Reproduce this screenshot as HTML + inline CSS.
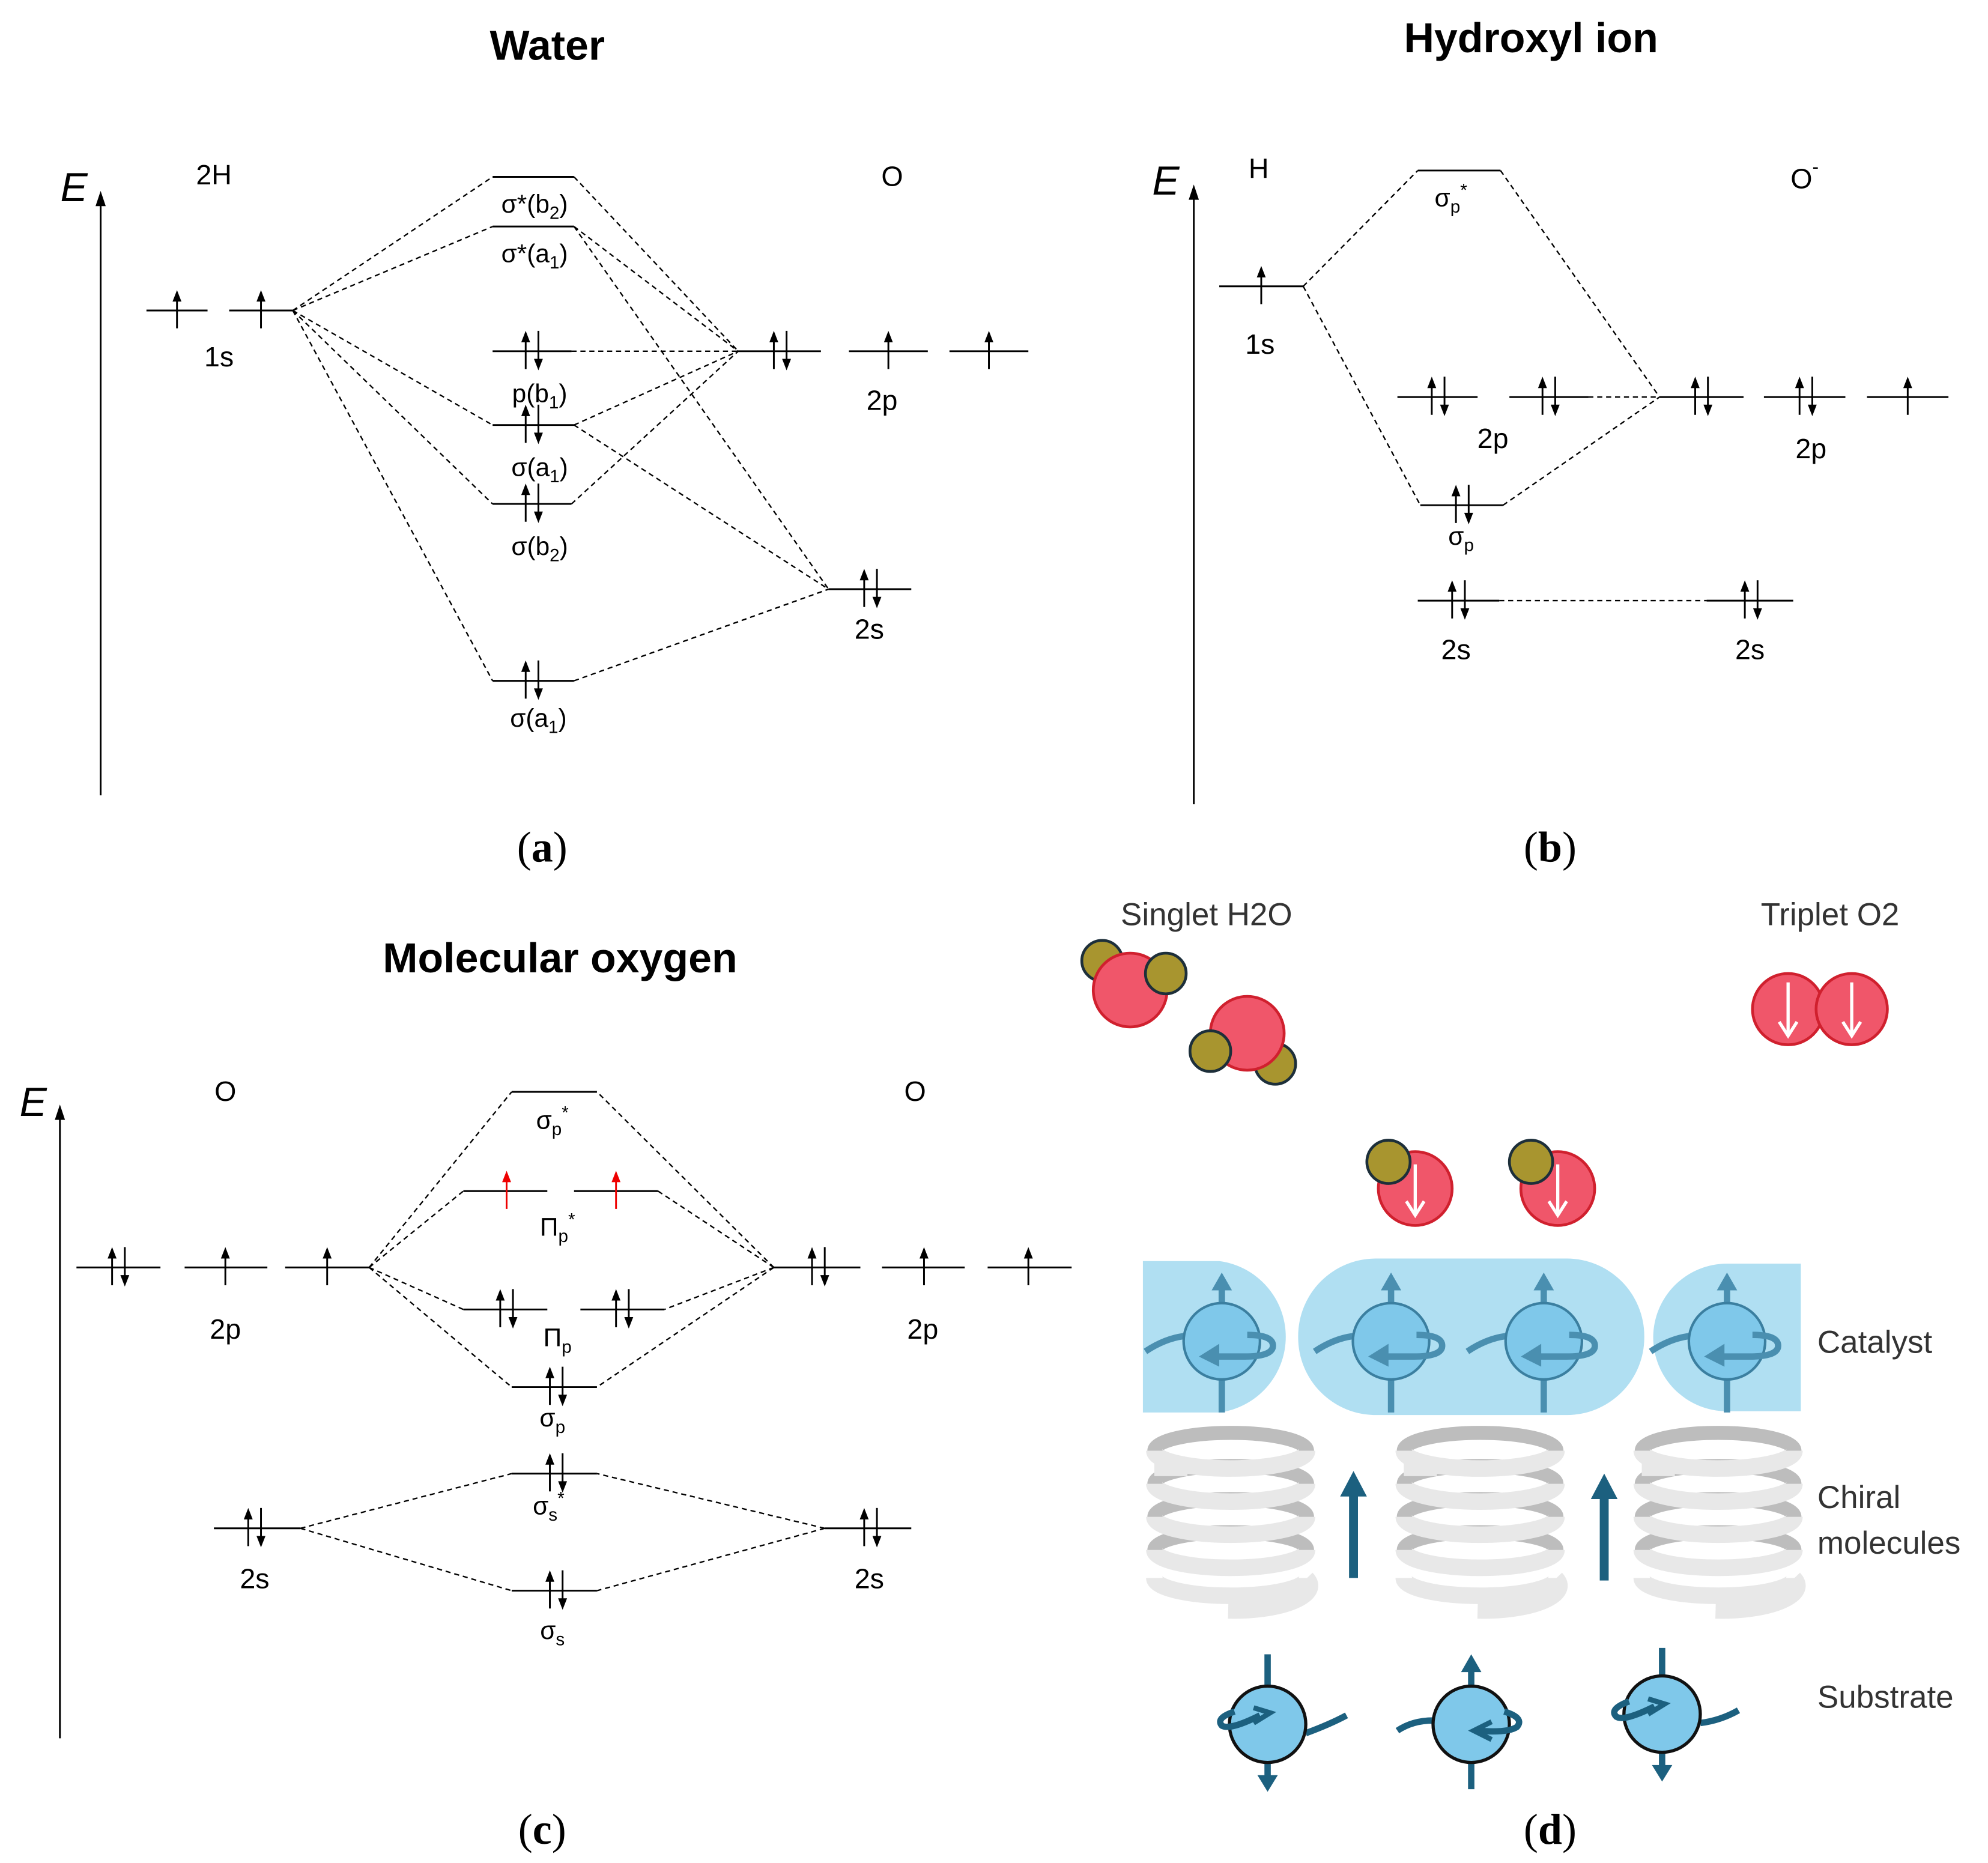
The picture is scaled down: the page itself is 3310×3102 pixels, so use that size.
<!DOCTYPE html>
<html><head><meta charset="utf-8"><style>html,body{margin:0;padding:0;background:#fff}svg{display:block}</style></head>
<body>
<svg width="3310" height="3102" viewBox="0 0 1562 1464" xmlns="http://www.w3.org/2000/svg" font-family="Liberation Sans, sans-serif">
<defs>
<g id="u"><line x1="0" y1="14" x2="0" y2="-12" stroke="#000" stroke-width="1.4"/><path d="M-3.5,-7 L0,-16 L3.5,-7Z" fill="#000"/></g>
<g id="d"><line x1="0" y1="-16" x2="0" y2="10" stroke="#000" stroke-width="1.4"/><path d="M-3.5,6 L0,15 L3.5,6Z" fill="#000"/></g>
<g id="ru"><line x1="0" y1="14" x2="0" y2="-12" stroke="#e00" stroke-width="1.4"/><path d="M-3.5,-7 L0,-16 L3.5,-7Z" fill="#e00"/></g>
<g id="ud"><use href="#u" x="-5"/><use href="#d" x="5"/></g>
<g id="ax"><path d="M-4,12 L0,0 L4,12Z" fill="#000"/></g>
</defs>
<rect width="1562" height="1464" fill="#fff"/>

<!-- ===== (a) Water ===== -->
<g fill="#000">
<text x="430" y="47" font-size="33" text-anchor="middle" font-weight="bold">Water</text>
<text x="58" y="158" font-size="32" font-style="italic" text-anchor="middle">E</text>
<text x="168" y="145" font-size="22" text-anchor="middle">2H</text>
<text x="701" y="146" font-size="22" text-anchor="middle">O</text>
<text x="172" y="288" font-size="22" text-anchor="middle">1s</text>
<text x="693" y="322" font-size="22" text-anchor="middle">2p</text>
<text x="683" y="502" font-size="22" text-anchor="middle">2s</text>
<g font-size="20" text-anchor="middle">
<text x="420" y="167">σ*(b<tspan font-size="14" dy="5">2</tspan><tspan dy="-5">)</tspan></text>
<text x="420" y="206">σ*(a<tspan font-size="14" dy="5">1</tspan><tspan dy="-5">)</tspan></text>
<text x="424" y="316">p(b<tspan font-size="14" dy="5">1</tspan><tspan dy="-5">)</tspan></text>
<text x="424" y="374">σ(a<tspan font-size="14" dy="5">1</tspan><tspan dy="-5">)</tspan></text>
<text x="424" y="436">σ(b<tspan font-size="14" dy="5">2</tspan><tspan dy="-5">)</tspan></text>
<text x="423" y="571">σ(a<tspan font-size="14" dy="5">1</tspan><tspan dy="-5">)</tspan></text>
</g>
</g>
<line x1="79" y1="625" x2="79" y2="160" stroke="#000" stroke-width="1.4"/><use href="#ax" x="79" y="150"/>
<g stroke="#000" stroke-width="1.4">
<line x1="115" y1="244" x2="163" y2="244"/><line x1="180" y1="244" x2="230" y2="244"/>
<line x1="580" y1="276" x2="645" y2="276"/><line x1="667" y1="276" x2="729" y2="276"/><line x1="746" y1="276" x2="808" y2="276"/>
<line x1="651" y1="463" x2="716" y2="463"/>
<line x1="387" y1="139" x2="451" y2="139"/><line x1="387" y1="178" x2="451" y2="178"/>
<line x1="387" y1="276" x2="449" y2="276"/><line x1="387" y1="334" x2="451" y2="334"/>
<line x1="387" y1="396" x2="449" y2="396"/><line x1="387" y1="535" x2="451" y2="535"/>
</g>
<use href="#u" x="139" y="244"/><use href="#u" x="205" y="244"/>
<use href="#ud" x="613" y="276"/><use href="#u" x="698" y="276"/><use href="#u" x="777" y="276"/>
<use href="#ud" x="684" y="463"/>
<use href="#ud" x="418" y="276"/><use href="#ud" x="418" y="334"/><use href="#ud" x="418" y="396"/><use href="#ud" x="418" y="535"/>
<g stroke="#000" stroke-width="1.1" stroke-dasharray="4,3" fill="none">
<path d="M230,244 L387,139 M230,244 L387,178 M230,244 L387,334 M230,244 L387,396 M230,244 L387,535"/>
<path d="M451,139 L580,276 M451,178 L580,276 M451,178 L651,463 M449,276 L580,276 M451,334 L580,276 M451,334 L651,463 M449,396 L580,276 M451,535 L651,463"/>
</g>
<text x="426" y="677" font-size="34" font-family="Liberation Serif, serif" text-anchor="middle">(<tspan font-weight="bold">a</tspan>)</text>

<!-- ===== (b) Hydroxyl ===== -->
<g fill="#000">
<text x="1203" y="41" font-size="33" text-anchor="middle" font-weight="bold">Hydroxyl ion</text>
<text x="916" y="153" font-size="32" font-style="italic" text-anchor="middle">E</text>
<text x="989" y="140" font-size="22" text-anchor="middle">H</text>
<text x="1418" y="148" font-size="22" text-anchor="middle">O<tspan font-size="15" dy="-12">-</tspan></text>
<text x="990" y="278" font-size="22" text-anchor="middle">1s</text>
<text x="1173" y="352" font-size="22" text-anchor="middle">2p</text>
<text x="1423" y="360" font-size="22" text-anchor="middle">2p</text>
<text x="1144" y="518" font-size="22" text-anchor="middle">2s</text>
<text x="1375" y="518" font-size="22" text-anchor="middle">2s</text>
<text x="1140" y="162" font-size="20" text-anchor="middle">σ<tspan font-size="14" dy="5">p</tspan><tspan font-size="14" dy="-13">*</tspan></text>
<text x="1148" y="428" font-size="20" text-anchor="middle">σ<tspan font-size="14" dy="5">p</tspan></text>
</g>
<line x1="938" y1="632" x2="938" y2="155" stroke="#000" stroke-width="1.4"/><use href="#ax" x="938" y="145"/>
<g stroke="#000" stroke-width="1.4">
<line x1="958" y1="225" x2="1024" y2="225"/><line x1="1114" y1="134" x2="1179" y2="134"/>
<line x1="1304" y1="312" x2="1370" y2="312"/><line x1="1386" y1="312" x2="1450" y2="312"/><line x1="1467" y1="312" x2="1531" y2="312"/>
<line x1="1098" y1="312" x2="1161" y2="312"/><line x1="1186" y1="312" x2="1248" y2="312"/>
<line x1="1116" y1="397" x2="1181" y2="397"/>
<line x1="1114" y1="472" x2="1178" y2="472"/><line x1="1341" y1="472" x2="1409" y2="472"/>
</g>
<use href="#u" x="991" y="225"/>
<use href="#ud" x="1337" y="312"/><use href="#ud" x="1419" y="312"/><use href="#u" x="1499" y="312"/>
<use href="#ud" x="1130" y="312"/><use href="#ud" x="1217" y="312"/>
<use href="#ud" x="1149" y="397"/><use href="#ud" x="1146" y="472"/><use href="#ud" x="1376" y="472"/>
<g stroke="#000" stroke-width="1.1" stroke-dasharray="4,3" fill="none">
<path d="M1024,225 L1114,134 M1024,225 L1116,397 M1179,134 L1304,312 M1181,397 L1304,312 M1248,312 L1304,312 M1178,472 L1341,472"/>
</g>
<text x="1218" y="677" font-size="34" font-family="Liberation Serif, serif" text-anchor="middle">(<tspan font-weight="bold">b</tspan>)</text>

<!-- ===== (c) Molecular oxygen ===== -->
<g fill="#000">
<text x="440" y="764" font-size="33" text-anchor="middle" font-weight="bold">Molecular oxygen</text>
<text x="26" y="877" font-size="32" font-style="italic" text-anchor="middle">E</text>
<text x="177" y="865" font-size="22" text-anchor="middle">O</text>
<text x="719" y="865" font-size="22" text-anchor="middle">O</text>
<text x="177" y="1052" font-size="22" text-anchor="middle">2p</text>
<text x="725" y="1052" font-size="22" text-anchor="middle">2p</text>
<text x="200" y="1248" font-size="22" text-anchor="middle">2s</text>
<text x="683" y="1248" font-size="22" text-anchor="middle">2s</text>
<g font-size="20" text-anchor="middle">
<text x="434" y="887">σ<tspan font-size="14" dy="5">p</tspan><tspan font-size="14" dy="-13">*</tspan></text>
<text x="438" y="971">Π<tspan font-size="14" dy="5">p</tspan><tspan font-size="14" dy="-13">*</tspan></text>
<text x="438" y="1058">Π<tspan font-size="14" dy="5">p</tspan></text>
<text x="434" y="1121">σ<tspan font-size="14" dy="5">p</tspan></text>
<text x="431" y="1190">σ<tspan font-size="14" dy="5">s</tspan><tspan font-size="14" dy="-13">*</tspan></text>
<text x="434" y="1288">σ<tspan font-size="14" dy="5">s</tspan></text>
</g>
</g>
<line x1="47" y1="1366" x2="47" y2="878" stroke="#000" stroke-width="1.4"/><use href="#ax" x="47" y="868"/>
<g stroke="#000" stroke-width="1.4">
<line x1="60" y1="996" x2="126" y2="996"/><line x1="145" y1="996" x2="210" y2="996"/><line x1="224" y1="996" x2="290" y2="996"/>
<line x1="608" y1="996" x2="676" y2="996"/><line x1="693" y1="996" x2="758" y2="996"/><line x1="776" y1="996" x2="842" y2="996"/>
<line x1="168" y1="1201" x2="236" y2="1201"/><line x1="648" y1="1201" x2="716" y2="1201"/>
<line x1="402" y1="858" x2="469" y2="858"/>
<line x1="364" y1="936" x2="430" y2="936"/><line x1="451" y1="936" x2="517" y2="936"/>
<line x1="364" y1="1029" x2="430" y2="1029"/><line x1="456" y1="1029" x2="522" y2="1029"/>
<line x1="402" y1="1090" x2="469" y2="1090"/><line x1="402" y1="1158" x2="469" y2="1158"/><line x1="402" y1="1250" x2="469" y2="1250"/>
</g>
<use href="#ud" x="93" y="996"/><use href="#u" x="177" y="996"/><use href="#u" x="257" y="996"/>
<use href="#ud" x="643" y="996"/><use href="#u" x="726" y="996"/><use href="#u" x="808" y="996"/>
<use href="#ud" x="200" y="1201"/><use href="#ud" x="684" y="1201"/>
<use href="#ru" x="398" y="936"/><use href="#ru" x="484" y="936"/>
<use href="#ud" x="398" y="1029"/><use href="#ud" x="489" y="1029"/>
<use href="#ud" x="437" y="1090"/><use href="#ud" x="437" y="1158"/><use href="#ud" x="437" y="1250"/>
<g stroke="#000" stroke-width="1.1" stroke-dasharray="4,3" fill="none">
<path d="M290,996 L402,858 M290,996 L364,936 M290,996 L364,1029 M290,996 L402,1090"/>
<path d="M608,996 L469,858 M608,996 L517,936 M608,996 L522,1029 M608,996 L469,1090"/>
<path d="M236,1201 L402,1158 M236,1201 L402,1250 M648,1201 L469,1158 M648,1201 L469,1250"/>
</g>
<text x="426" y="1449" font-size="34" font-family="Liberation Serif, serif" text-anchor="middle">(<tspan font-weight="bold">c</tspan>)</text>

<!-- ===== (d) CISS ===== -->
<g fill="#333" font-size="25">
<text x="948" y="727" text-anchor="middle">Singlet H2O</text>
<text x="1438" y="727" text-anchor="middle">Triplet O2</text>
<text x="1428" y="1063">Catalyst</text>
<text x="1428" y="1185">Chiral</text>
<text x="1428" y="1221">molecules</text>
<text x="1428" y="1342">Substrate</text>
</g>
<!-- water molecules -->
<g stroke-width="2.2">
<circle cx="866" cy="755" r="16" fill="#a8952f" stroke="#1d2f3a"/>
<circle cx="888" cy="778" r="29" fill="#f0566a" stroke="#d0202e"/>
<circle cx="916" cy="765" r="16" fill="#a8952f" stroke="#1d2f3a"/>
<circle cx="1002" cy="836" r="16" fill="#a8952f" stroke="#1d2f3a"/>
<circle cx="980" cy="812" r="29" fill="#f0566a" stroke="#d0202e"/>
<circle cx="951" cy="826" r="16" fill="#a8952f" stroke="#1d2f3a"/>
<!-- O2 -->
<circle cx="1405" cy="793" r="28" fill="#f0566a" stroke="#d0202e"/>
<circle cx="1455" cy="793" r="28" fill="#f0566a" stroke="#d0202e"/>
<!-- OH -->
<circle cx="1112" cy="934" r="29" fill="#f0566a" stroke="#d0202e"/>
<circle cx="1091" cy="913" r="17" fill="#a8952f" stroke="#1d2f3a"/>
<circle cx="1224" cy="934" r="29" fill="#f0566a" stroke="#d0202e"/>
<circle cx="1203" cy="913" r="17" fill="#a8952f" stroke="#1d2f3a"/>
</g>
<g stroke="#fff" stroke-width="2.5" fill="none">
<path d="M1405,772 V812 M1398,803 L1405,814 L1412,803"/>
<path d="M1455,772 V812 M1448,803 L1455,814 L1462,803"/>
<path d="M1112,915 V953 M1105,944 L1112,955 L1119,944"/>
<path d="M1224,915 V953 M1217,944 L1224,955 L1231,944"/>
</g>
<!-- catalyst band -->
<g fill="#b0dff2">
<path d="M898,991 H958 A60,60 0 0 1 958,1110 H898 Z"/>
<rect x="1020" y="989" width="272" height="123" rx="61"/>
<path d="M1415,993 H1357 A58,58 0 0 0 1357,1109 H1415 Z"/>
</g>
<g id="cat">
</g>
<g stroke="#4a8fb0" stroke-width="5" fill="none">
<g id="c1">
<path d="M960,1024 V1004"/><path d="M960,1084 V1108"/>
</g>
</g>
<!-- catalyst spins -->
<g>
<g transform="translate(960,1054)">
<line x1="0" y1="-30" x2="0" y2="-48" stroke="#4a8fb0" stroke-width="5"/><path d="M-8,-40 L0,-54 L8,-40 Z" fill="#4a8fb0"/>
<line x1="0" y1="30" x2="0" y2="56" stroke="#4a8fb0" stroke-width="5"/>
<path d="M-60,8 Q-45,-2 -30,-4" stroke="#4a8fb0" stroke-width="5" fill="none"/>
<circle r="30" fill="#7fc8ea" stroke="#3b7fa0" stroke-width="2"/>
<path d="M20,-5 Q42,-5 40,5 Q38,12 18,12 H-12" stroke="#4a8fb0" stroke-width="5" fill="none"/><path d="M-2,2 L-18,12 L-2,20 Z" fill="#4a8fb0"/>
</g>
<g transform="translate(1093,1054)">
<line x1="0" y1="-30" x2="0" y2="-48" stroke="#4a8fb0" stroke-width="5"/><path d="M-8,-40 L0,-54 L8,-40 Z" fill="#4a8fb0"/>
<line x1="0" y1="30" x2="0" y2="56" stroke="#4a8fb0" stroke-width="5"/>
<path d="M-60,8 Q-45,-2 -30,-4" stroke="#4a8fb0" stroke-width="5" fill="none"/>
<circle r="30" fill="#7fc8ea" stroke="#3b7fa0" stroke-width="2"/>
<path d="M20,-5 Q42,-5 40,5 Q38,12 18,12 H-12" stroke="#4a8fb0" stroke-width="5" fill="none"/><path d="M-2,2 L-18,12 L-2,20 Z" fill="#4a8fb0"/>
</g>
<g transform="translate(1213,1054)">
<line x1="0" y1="-30" x2="0" y2="-48" stroke="#4a8fb0" stroke-width="5"/><path d="M-8,-40 L0,-54 L8,-40 Z" fill="#4a8fb0"/>
<line x1="0" y1="30" x2="0" y2="56" stroke="#4a8fb0" stroke-width="5"/>
<path d="M-60,8 Q-45,-2 -30,-4" stroke="#4a8fb0" stroke-width="5" fill="none"/>
<circle r="30" fill="#7fc8ea" stroke="#3b7fa0" stroke-width="2"/>
<path d="M20,-5 Q42,-5 40,5 Q38,12 18,12 H-12" stroke="#4a8fb0" stroke-width="5" fill="none"/><path d="M-2,2 L-18,12 L-2,20 Z" fill="#4a8fb0"/>
</g>
<g transform="translate(1357,1054)">
<line x1="0" y1="-30" x2="0" y2="-48" stroke="#4a8fb0" stroke-width="5"/><path d="M-8,-40 L0,-54 L8,-40 Z" fill="#4a8fb0"/>
<line x1="0" y1="30" x2="0" y2="56" stroke="#4a8fb0" stroke-width="5"/>
<path d="M-60,8 Q-45,-2 -30,-4" stroke="#4a8fb0" stroke-width="5" fill="none"/>
<circle r="30" fill="#7fc8ea" stroke="#3b7fa0" stroke-width="2"/>
<path d="M20,-5 Q42,-5 40,5 Q38,12 18,12 H-12" stroke="#4a8fb0" stroke-width="5" fill="none"/><path d="M-2,2 L-18,12 L-2,20 Z" fill="#4a8fb0"/>
</g>
</g>
<!-- helices -->
<g fill="none">
<g id="hx" transform="translate(967,0)">
<ellipse cx="0" cy="1140" rx="60" ry="14" stroke="#bdbdbd" stroke-width="11"/>
<ellipse cx="0" cy="1166" rx="60" ry="14" stroke="#bdbdbd" stroke-width="11"/>
<ellipse cx="0" cy="1192" rx="60" ry="14" stroke="#bdbdbd" stroke-width="11"/>
<ellipse cx="0" cy="1218" rx="60" ry="14" stroke="#bdbdbd" stroke-width="11"/>
<path d="M-60,1140 A60,14 0 0 0 60,1140" stroke="#e8e8e8" stroke-width="13"/>
<path d="M-60,1166 A60,14 0 0 0 60,1166" stroke="#e8e8e8" stroke-width="13"/>
<path d="M-60,1192 A60,14 0 0 0 60,1192" stroke="#e8e8e8" stroke-width="13"/>
<path d="M-60,1218 A60,14 0 0 0 60,1218" stroke="#e8e8e8" stroke-width="13"/>
<path d="M-60,1240 A60,14 0 0 0 60,1240" stroke="#e8e8e8" stroke-width="13"/>
<path d="M60,1240 A60,20 0 0 1 -2,1266" stroke="#e8e8e8" stroke-width="12"/>
<rect x="-60" y="1150" width="26" height="10" fill="#e8e8e8" stroke="none"/>
</g>
<use href="#hx" x="196"/>
<use href="#hx" x="383"/>
</g>
<g fill="#1c607f">
<rect x="1060" y="1172" width="7" height="68"/><path d="M1053,1176 L1063.5,1156 L1074,1176 Z"/>
<rect x="1257" y="1174" width="7" height="68"/><path d="M1250,1178 L1260.5,1158 L1271,1178 Z"/>
</g>
<!-- substrate spins -->
<g stroke="#1c607f" stroke-width="5" fill="none">
<path d="M996,1300 V1325"/><path d="M996,1385 V1398"/>
<path d="M1026,1362 Q1045,1355 1058,1348"/>
<path d="M1156,1385 V1406"/><path d="M1156,1325 V1312"/>
<path d="M1126,1352 Q1110,1352 1098,1360"/>
<path d="M1306,1295 V1317"/><path d="M1306,1377 V1390"/>
<path d="M1336,1354 Q1352,1352 1366,1344"/>
</g>
<g stroke="#111" stroke-width="2.5" fill="#7fc8ea">
<circle cx="996" cy="1355" r="30"/><circle cx="1156" cy="1355" r="30"/><circle cx="1306" cy="1347" r="30"/>
</g>
<g fill="#1c607f">
<path d="M988,1395 L996,1408 L1004,1395 Z"/>
<path d="M1148,1314 L1156,1300 L1164,1314 Z"/>
<path d="M1298,1387 L1306,1400 L1314,1387 Z"/>
</g>
<g stroke="#1c607f" stroke-width="5" fill="none">
<path d="M970,1345 Q955,1350 960,1356 Q966,1360 990,1348"/><path d="M985,1342 L998,1346 L985,1354" stroke-width="4"/>
<path d="M1182,1345 Q1198,1350 1192,1357 Q1185,1362 1160,1360"/><path d="M1172,1353 L1158,1360 L1172,1367" stroke-width="4"/>
<path d="M1280,1337 Q1264,1343 1270,1349 Q1276,1353 1300,1341"/><path d="M1295,1335 L1308,1339 L1295,1347" stroke-width="4"/>
</g>
<text x="1218" y="1449" font-size="34" font-family="Liberation Serif, serif" text-anchor="middle">(<tspan font-weight="bold">d</tspan>)</text>
</svg>
</body></html>
